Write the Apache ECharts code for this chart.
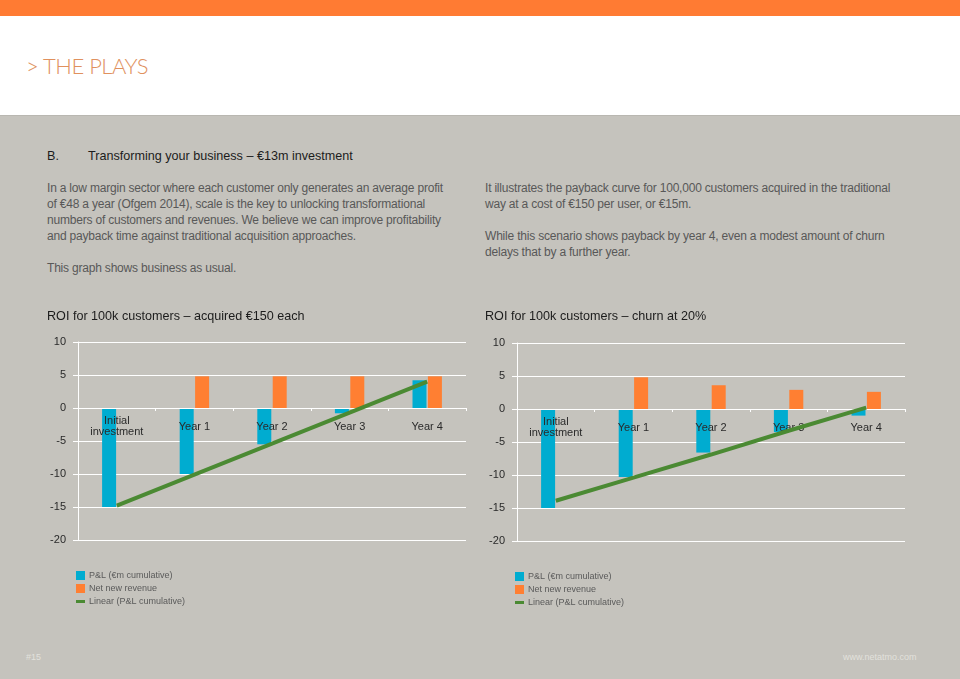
<!DOCTYPE html>
<html>
<head>
<meta charset="utf-8">
<script src="https://cdn.jsdelivr.net/npm/echarts@6/dist/echarts.min.js"></script>
<style>
  html, body { margin:0; padding:0; width:960px; height:679px; overflow:hidden; background:#c5c3bd; font-family:"Liberation Sans", Arial, sans-serif; }
  #topbar { position:absolute; left:0; top:0; width:960px; height:16px; background:#ff7b33; }
  #header { position:absolute; left:0; top:16px; width:960px; height:99px; background:#ffffff; border-bottom:1px solid #b9b7b1; }
  #pagetitle { position:absolute; left:26px; top:36px; font-family:"Lato","Liberation Sans",sans-serif; font-weight:300; font-size:22px; color:#e0915e; letter-spacing:-0.5px; white-space:nowrap; }
  .t { position:absolute; white-space:nowrap; }
  .h { font-size:12.6px; color:#1c1c1c; }
  .p { font-size:12px; color:#585858; line-height:16px; letter-spacing:-0.2px; }
  .f { font-size:9px; color:#e2e1dc; }
  #chart { position:absolute; left:0; top:0; width:960px; height:679px; }
</style>
</head>
<body>
<div id="topbar"></div>
<div id="header"><div id="pagetitle">&gt; THE PLAYS</div></div>

<div class="t h" style="left:47px; top:149px;">B.</div>
<div class="t h" style="left:88px; top:149px;">Transforming your business – €13m investment</div>

<div class="t p" style="left:47px; top:180px;">In a low margin sector where each customer only generates an average profit<br>of €48 a year (Ofgem 2014), scale is the key to unlocking transformational<br>numbers of customers and revenues. We believe we can improve profitability<br>and payback time against traditional acquisition approaches.<br><br>This graph shows business as usual.</div>

<div class="t p" style="left:485px; top:180px;">It illustrates the payback curve for 100,000 customers acquired in the traditional<br>way at a cost of €150 per user, or €15m.<br><br>While this scenario shows payback by year 4, even a modest amount of churn<br>delays that by a further year.</div>

<div class="t f" style="left:26px; top:652px;">#15</div>
<div class="t f" style="left:843px; top:652px;">www.netatmo.com</div>

<div id="chart"></div>
<script>
// ---- data ----
const categories = ['Initial\ninvestment', 'Year 1', 'Year 2', 'Year 3', 'Year 4'];
const yMin = -20, yMax = 10, yStep = 5;

const leftTitle = 'ROI for 100k customers – acquired €150 each';
const leftPL      = [-15, -10, -5.5, -0.8, 4.2];
const leftRevenue = [null, 4.8, 4.8, 4.8, 4.8];
const leftTrend   = [-14.8, -10.1, -5.4, -0.7, 4.0];

const rightTitle = 'ROI for 100k customers – churn at 20%';
const rightPL      = [-15, -10.3, -6.6, -3.5, -1.0];
const rightRevenue = [null, 4.8, 3.6, 2.9, 2.6];
const rightTrend   = [-13.9, -10.4, -6.9, -3.3, 0.2];

const seriesNames = ['P&L (€m cumulative)', 'Net new revenue', 'Linear (P&L cumulative)'];

// ---- styles / layout ----
const BLUE = '#00acd0', ORANGE = '#ff7f32', GREEN = '#4b8a33';
const FONT = '"Liberation Sans", Arial, sans-serif';
const grids = [
  { left: 78, top: 342, width: 388, height: 198 },
  { left: 517, top: 343, width: 388, height: 198 }
];
// category axis sits on the value 0 line: shift it up from the grid bottom by the scale position of 0
function zeroOffset(g) { return -g.height * (0 - yMin) / (yMax - yMin); }

function xAxisCfg(i) {
  return {
    type: 'category', gridIndex: i, data: categories, z: 2, position: 'bottom',
    offset: zeroOffset(grids[i]),
    axisLine: { onZero: false, lineStyle: { color: '#ffffff', width: 1 } },
    axisTick: { show: true, length: 3, lineStyle: { color: '#ffffff' } },
    axisLabel: { color: '#2a2a2a', fontSize: 11, fontFamily: FONT, margin: 18.5, verticalAlign: 'middle', lineHeight: 11 },
    splitLine: { show: false }
  };
}
function yAxisCfg(i) {
  return {
    type: 'value', gridIndex: i, min: yMin, max: yMax, interval: yStep,
    axisLine: { show: true, onZero: false, lineStyle: { color: '#ffffff', width: 1 } },
    axisTick: { show: true, length: 5, lineStyle: { color: '#ffffff' } },
    axisLabel: { color: '#2a2a2a', fontSize: 11, fontFamily: FONT, margin: 12 },
    splitLine: { show: true, lineStyle: { color: '#ffffff', width: 1 } }
  };
}
function seriesFor(i, pl, rev, trend) {
  return [
    { name: seriesNames[0], type: 'bar', xAxisIndex: i, yAxisIndex: i, data: pl, barWidth: 14, barGap: '10%', z: 1, itemStyle: { color: BLUE } },
    { name: seriesNames[1], type: 'bar', xAxisIndex: i, yAxisIndex: i, data: rev, barWidth: 14, barGap: '10%', z: 1, itemStyle: { color: ORANGE } },
    { name: seriesNames[2], type: 'line', xAxisIndex: i, yAxisIndex: i, data: trend, symbol: 'none', z: 3, lineStyle: { color: GREEN, width: 4 }, itemStyle: { color: GREEN } }
  ];
}
const LINE_ICON = 'path://M0,0 L0.01,0 M0,3 L9,3 L9,6 L0,6 Z M9,9 L8.99,9';
function legendCfg(left, top) {
  return {
    left: left, top: top, padding: 0, orient: 'vertical', itemWidth: 9, itemHeight: 9, itemGap: 4,
    textStyle: { color: '#5a5a5a', fontSize: 9, fontFamily: FONT, padding: [0, 0, 0, -1] },
    data: [
      { name: seriesNames[0], icon: 'rect' },
      { name: seriesNames[1], icon: 'rect' },
      { name: seriesNames[2], icon: LINE_ICON }
    ],
    selectedMode: false
  };
}

const chart = echarts.init(document.getElementById('chart'), null, { renderer: 'canvas' });
chart.setOption({
  backgroundColor: 'transparent',
  animation: false,
  title: [
    { text: leftTitle, left: 47, top: 310, padding: 0, textStyle: { fontSize: 12.6, fontWeight: 'normal', color: '#1c1c1c', fontFamily: FONT } },
    { text: rightTitle, left: 485, top: 310, padding: 0, textStyle: { fontSize: 12.6, fontWeight: 'normal', color: '#1c1c1c', fontFamily: FONT } }
  ],
  grid: grids,
  xAxis: [xAxisCfg(0), xAxisCfg(1)],
  yAxis: [yAxisCfg(0), yAxisCfg(1)],
  legend: [legendCfg(76, 571), legendCfg(515, 572)],
  series: seriesFor(0, leftPL, leftRevenue, leftTrend).concat(seriesFor(1, rightPL, rightRevenue, rightTrend))
});
</script>
</body>
</html>
